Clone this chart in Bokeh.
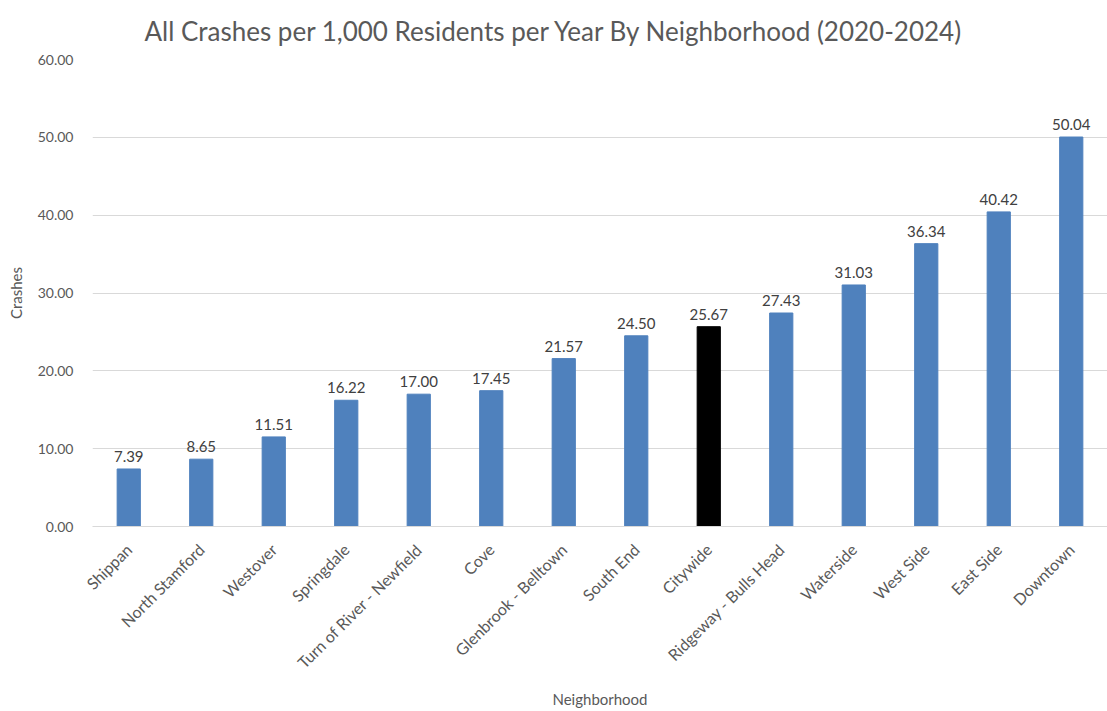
import math
from bokeh.plotting import figure
from bokeh.models import ColumnDataSource, NumeralTickFormatter, FixedTicker, Range1d
from bokeh.core.properties import value
from bokeh.embed import file_html
from bokeh.resources import INLINE

neighborhoods = ["Shippan", "North Stamford", "Westover", "Springdale",
                 "Turn of River - Newfield", "Cove", "Glenbrook - Belltown",
                 "South End", "Citywide", "Ridgeway - Bulls Head", "Waterside",
                 "West Side", "East Side", "Downtown"]
crashes = [7.39, 8.65, 11.51, 16.22, 17.00, 17.45, 21.57, 24.50, 25.67,
           27.43, 31.03, 36.34, 40.42, 50.04]
y_ticks = [0, 10, 20, 30, 40, 50, 60]

FONT = "Lato"
colors = ["#000000" if n == "Citywide" else "#4F81BD" for n in neighborhoods]
source = ColumnDataSource(dict(x=neighborhoods, y=crashes, color=colors,
                               label=["%.2f" % v for v in crashes]))

p = figure(x_range=neighborhoods, y_range=Range1d(0, 60),
           width=1107, height=711, output_backend="svg", toolbar_location=None,
           title="All Crashes per 1,000 Residents per Year By Neighborhood (2020-2024)",
           min_border_left=92, min_border_right=0, min_border_top=0, min_border_bottom=10)

p.vbar(x="x", top="y", width=0.32, color="color", source=source)
p.text(x="x", y="y", text="label", source=source, text_align="center",
       text_baseline="bottom", y_offset=-7, text_font=value(FONT),
       text_font_size="15px", text_color="#404040")

p.title.align = "left"
p.title.offset = 52
p.title.text_font = FONT
p.title.text_font_size = "26px"
p.title.text_font_style = "normal"
p.title.text_color = "#595959"
p.title.standoff = 25

p.outline_line_color = None
p.xgrid.grid_line_color = None
p.ygrid.grid_line_color = "#D9D9D9"
p.ygrid.grid_line_width = 1

p.yaxis.ticker = FixedTicker(ticks=y_ticks)
p.yaxis.formatter = NumeralTickFormatter(format="0.00")
p.yaxis.axis_line_color = None
p.yaxis.major_tick_line_color = None
p.yaxis.minor_tick_line_color = None
p.yaxis.axis_label = "Crashes"
p.yaxis.major_label_standoff = 13
p.yaxis.axis_label_standoff = 10

p.xaxis.axis_line_color = "#D9D9D9"
p.xaxis.major_tick_line_color = None
p.xaxis.major_label_orientation = math.pi / 4
p.xaxis.axis_label = "Neighborhood"
p.xaxis.major_label_standoff = 14
p.xaxis.axis_label_standoff = 9

for ax in (p.xaxis[0], p.yaxis[0]):
    ax.major_label_text_font = FONT
    ax.major_label_text_color = "#595959"
    ax.axis_label_text_font = FONT
    ax.axis_label_text_font_size = "15px"
    ax.axis_label_text_font_style = "normal"
    ax.axis_label_text_color = "#595959"
p.xaxis.major_label_text_font_size = "16px"
p.yaxis.major_label_text_font_size = "14px"

open("out.html", "w").write(file_html(p, INLINE))
